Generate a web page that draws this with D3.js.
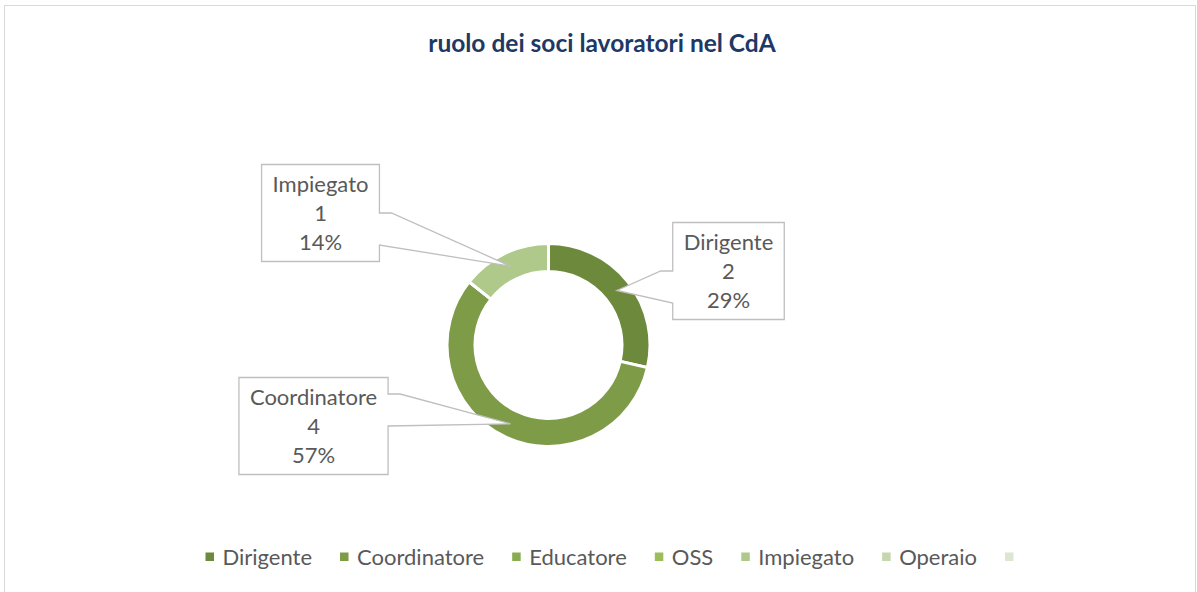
<!DOCTYPE html>
<html>
<head>
<meta charset="utf-8">
<script src="https://cdn.jsdelivr.net/npm/d3@7"></script>
<style>
  body { margin: 0; background: #fff; }
  text { font-family: Lato, "Open Sans", sans-serif; }
</style>
</head>
<body>
<div id="chart"></div>
<script>

// data
const categories = ["Dirigente", "Coordinatore", "Educatore", "OSS", "Impiegato", "Operaio", ""];
const values = [2, 4, 0, 0, 1, 0, 0];
const colors = ["#6d8a3c", "#7e9c48", "#8aac50", "#9cbd5a", "#afc98a", "#c6d7ae", "#dce6d0"];
const title = "ruolo dei soci lavoratori nel CdA";

// where the callout boxes sit, relative to the donut centre
const labelOffsets = {
	"Dirigente": [180, -74],
	"Coordinatore": [-235, 81],
	"Impiegato": [-228, -132]
};

const width = 1197, height = 592;
const cx = 548.5, cy = 345;
const outerR = 101.5, innerR = 73.5;
const textColor = "#595959";
const fontSize = 22;
const legendGap = 28;

const svg = d3.select("#chart")
	.append("svg")
	.attr("width", width)
	.attr("height", height);

// chart frame
svg.append("rect")
	.attr("x", 4.5).attr("y", 5.5)
	.attr("width", 1191).attr("height", 620)
	.attr("fill", "#fff")
	.attr("stroke", "#d9d9d9")
	.attr("stroke-width", 1);

svg.append("text")
	.attr("x", 602).attr("y", 52)
	.attr("text-anchor", "middle")
	.attr("font-size", 24.5)
	.attr("font-weight", "bold")
	.attr("fill", "#203864")
	.text(title);

const data = categories.map((c, i) => ({ name: c, value: values[i], color: colors[i] }));
const total = d3.sum(values);

const pie = d3.pie()
	.value(d => d.value)
	.sort(null);

const arc = d3.arc()
	.innerRadius(innerR)
	.outerRadius(outerR);

const g = svg.append("g")
	.attr("transform", `translate(${cx},${cy})`);

const arcs = pie(data);

g.selectAll("path.slice")
	.data(arcs)
	.join("path")
	.attr("class", "slice")
	.attr("d", arc)
	.attr("fill", d => d.data.color)
	.attr("stroke", "#fff")
	.attr("stroke-width", 3);

// callout labels
const labels = g.selectAll("g.callout")
	.data(arcs.filter(d => d.data.value > 0))
	.join("g")
	.attr("class", "callout");

labels.each(function(d) {
	const sel = d3.select(this);
	const [ox, oy] = labelOffsets[d.data.name];
	const lines = [d.data.name, d.data.value, Math.round(d.data.value / total * 100) + "%"];
	const lineH = 29;

	const pathEl = sel.append("path");
	const txt = sel.append("text")
		.attr("text-anchor", "middle")
		.attr("font-size", fontSize)
		.attr("fill", textColor);
	lines.forEach((l, i) => {
		txt.append("tspan")
			.attr("x", ox)
			.attr("y", oy + (i - 1) * lineH)
			.attr("dy", "0.35em")
			.text(l);
	});

	const tw = d3.max(txt.selectAll("tspan").nodes(), n => n.getComputedTextLength());
	const w = tw + 22, h = 97;
	const x0 = ox - w / 2, x1 = ox + w / 2, y0 = oy - h / 2, y1 = oy + h / 2;
	const [tx, ty] = arc.centroid(d);
	const dir = ty > oy ? 1 : -1;
	const b1 = oy, b2 = oy + dir * 32;
	const ba = Math.min(b1, b2), bb = Math.max(b1, b2);

	const p = d3.path();
	p.moveTo(x0, y0);
	p.lineTo(x1, y0);
	if (tx > x1) {
		p.lineTo(x1, ba);
		p.lineTo(x1 + 12, ba);
		p.lineTo(tx, ty);
		p.lineTo(x1, bb);
	}
	p.lineTo(x1, y1);
	p.lineTo(x0, y1);
	if (tx < x0) {
		p.lineTo(x0, bb);
		p.lineTo(tx, ty);
		p.lineTo(x0 - 12, ba);
		p.lineTo(x0, ba);
	}
	p.closePath();

	pathEl.attr("d", p.toString())
		.attr("fill", "#fff")
		.attr("stroke", "#bfbfbf")
		.attr("stroke-width", 1.3);
});

// legend
const legend = svg.append("g").attr("class", "legend");
const items = legend.selectAll("g")
	.data(data)
	.join("g");

items.append("rect")
	.attr("width", 8.5).attr("height", 8.5)
	.attr("y", -4.5)
	.attr("fill", d => d.color);

items.append("text")
	.attr("x", 17)
	.attr("dy", "0.35em")
	.attr("font-size", fontSize)
	.attr("fill", textColor)
	.text(d => d.name);

let lx = 0;
const widths = [];
items.each(function() {
	const tw = d3.select(this).select("text").node().getComputedTextLength();
	widths.push(tw);
});
items.attr("transform", (d, i) => {
	const x = lx;
	lx += 17 + widths[i] + (widths[i] > 0 ? legendGap : 0);
	return `translate(${x},0)`;
});
const legendW = lx - legendGap + 8.5;
legend.attr("transform", `translate(${604 - legendW / 2},557)`);

</script>
</body>
</html>
